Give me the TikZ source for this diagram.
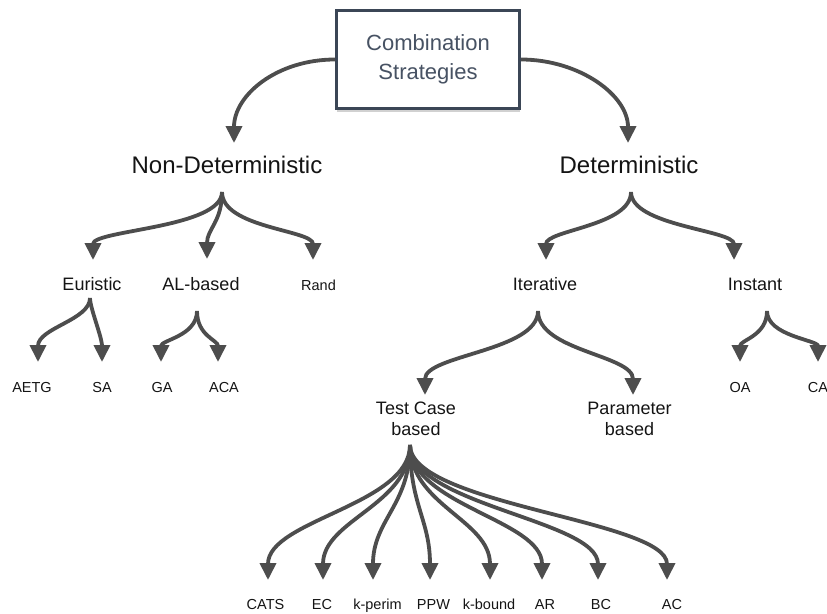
\documentclass[tikz,border=0pt]{standalone}
\usepackage{fontspec}
\setmainfont{Liberation Sans}
\usetikzlibrary{arrows.meta,shadows}
\definecolor{linegray}{HTML}{4D4D4D}
\definecolor{boxedge}{HTML}{3B4656}
\definecolor{boxtext}{HTML}{475263}
\begin{document}
\begin{tikzpicture}[x=1pt,y=-1pt,
  arr/.style={draw=linegray,line width=3.8pt,-{Triangle[length=17pt,width=16pt]}},
  lbl/.style={inner sep=0pt,anchor=base,text=black!92},
  bigf/.style={lbl,font=\fontsize{24}{29}\selectfont},
  midf/.style={lbl,font=\fontsize{18}{22}\selectfont},
  smallf/.style={lbl,font=\fontsize{14.5}{17}\selectfont},
  twoline/.style={inner sep=0pt,anchor=center,align=center,text=black!92,font=\fontsize{18}{21.5}\selectfont},
  rootbox/.style={draw=boxedge,line width=3pt,fill=white,minimum width=183pt,minimum height=98pt,
    align=center,text=boxtext,font=\fontsize{22}{29}\selectfont,
    drop shadow={shadow xshift=0pt,shadow yshift=-3pt,opacity=0.18,fill=black}}
]
\useasboundingbox (0,0) rectangle (827,613);

% root
\node[rootbox] (root) at (428,59.5) {Combination\\Strategies};

% level 1
\node[bigf] (nd) at (227,173) {Non-Deterministic};
\node[bigf] (det) at (629,173) {Deterministic};

% level 2
\node[midf] (eur) at (92,290) {Euristic};
\node[midf] (al) at (201,290) {AL-based};
\node[smallf] (rand) at (318.5,290) {Rand};
\node[midf] (it) at (545,290) {Iterative};
\node[midf] (ins) at (755,290) {Instant};

% level 3
\node[smallf] (aetg) at (32,392) {AETG};
\node[smallf] (sa) at (102,392) {SA};
\node[smallf] (ga) at (162,392) {GA};
\node[smallf] (aca) at (224,392) {ACA};
\node[smallf] (oa) at (740,392) {OA};
\node[smallf] (ca) at (818,392) {CA};
\node[twoline] (tc) at (416,419) {Test Case\\based};
\node[twoline] (par) at (629.5,419) {Parameter\\based};

% level 4
\node[smallf] (cats) at (265.5,609) {CATS};
\node[smallf] (ec) at (322,609) {EC};
\node[smallf] (kp) at (377.5,609) {k-perim};
\node[smallf] (ppw) at (433.5,609) {PPW};
\node[smallf] (kb) at (489,609) {k-bound};
\node[smallf] (ar) at (545,609) {AR};
\node[smallf] (bc) at (601,609) {BC};
\node[smallf] (ac) at (672,609) {AC};

% connection points
\coordinate (root-l) at (root.west);
\coordinate (root-r) at (root.east);
\coordinate (nd-in) at (234,143);
\coordinate (det-in) at (628,143);
\coordinate (nd-out) at (222,192);
\coordinate (det-out) at (631,192);
\coordinate (eur-in) at (93,260);
\coordinate (al-in) at (207,259);
\coordinate (rand-in) at (313,260);
\coordinate (it-in) at (546,260);
\coordinate (ins-in) at (734,260);
\coordinate (eur-out) at (90,298);
\coordinate (al-out) at (197,311);
\coordinate (it-out) at (538,311);
\coordinate (ins-out) at (767,311);
\coordinate (aetg-in) at (38,362);
\coordinate (sa-in) at (102,362);
\coordinate (ga-in) at (161,362);
\coordinate (aca-in) at (218,362);
\coordinate (oa-in) at (740,362);
\coordinate (ca-in) at (818,362);
\coordinate (tc-in) at (425,395);
\coordinate (par-in) at (633,395);
\coordinate (tc-out) at (410,445);
\coordinate (cats-in) at (268,580);
\coordinate (ec-in) at (323,580);
\coordinate (kp-in) at (373,580);
\coordinate (ppw-in) at (430,580);
\coordinate (kb-in) at (490,580);
\coordinate (ar-in) at (542,580);
\coordinate (bc-in) at (598,580);
\coordinate (ac-in) at (667,580);

% connectors
\draw[arr] (root-l) .. controls +(-58,0) and +(0,-48) .. (nd-in);
\draw[arr] (root-r) .. controls +(58,0) and +(0,-48) .. (det-in);

\draw[arr] (nd-out) .. controls +(0,36) and +(0,-30) .. (eur-in);
\draw[arr] (nd-out) .. controls +(0,30) and +(0,-30) .. (al-in);
\draw[arr] (nd-out) .. controls +(0,36) and +(0,-30) .. (rand-in);

\draw[arr] (det-out) .. controls +(0,34) and +(0,-30) .. (it-in);
\draw[arr] (det-out) .. controls +(0,34) and +(0,-30) .. (ins-in);

\draw[arr] (eur-out) .. controls +(0,22) and +(0,-34) .. (aetg-in);
\draw[arr] (eur-out) .. controls +(0,10) and +(0,-25) .. (sa-in);
\draw[arr] (al-out) .. controls +(0,25) and +(0,-22) .. (ga-in);
\draw[arr] (al-out) .. controls +(0,25) and +(0,-22) .. (aca-in);

\draw[arr] (it-out) .. controls +(0,40) and +(0,-40) .. (tc-in);
\draw[arr] (it-out) .. controls +(0,40) and +(0,-40) .. (par-in);
\draw[arr] (ins-out) .. controls +(0,25) and +(0,-22) .. (oa-in);
\draw[arr] (ins-out) .. controls +(0,25) and +(0,-22) .. (ca-in);

\draw[arr] (tc-out) .. controls +(0,60) and +(0,-60) .. (cats-in);
\draw[arr] (tc-out) .. controls +(0,60) and +(0,-60) .. (ec-in);
\draw[arr] (tc-out) .. controls +(0,60) and +(0,-60) .. (kp-in);
\draw[arr] (tc-out) .. controls +(0,60) and +(0,-60) .. (ppw-in);
\draw[arr] (tc-out) .. controls +(0,60) and +(0,-60) .. (kb-in);
\draw[arr] (tc-out) .. controls +(0,60) and +(0,-60) .. (ar-in);
\draw[arr] (tc-out) .. controls +(0,60) and +(0,-60) .. (bc-in);
\draw[arr] (tc-out) .. controls +(0,60) and +(0,-60) .. (ac-in);
\end{tikzpicture}
\end{document}
